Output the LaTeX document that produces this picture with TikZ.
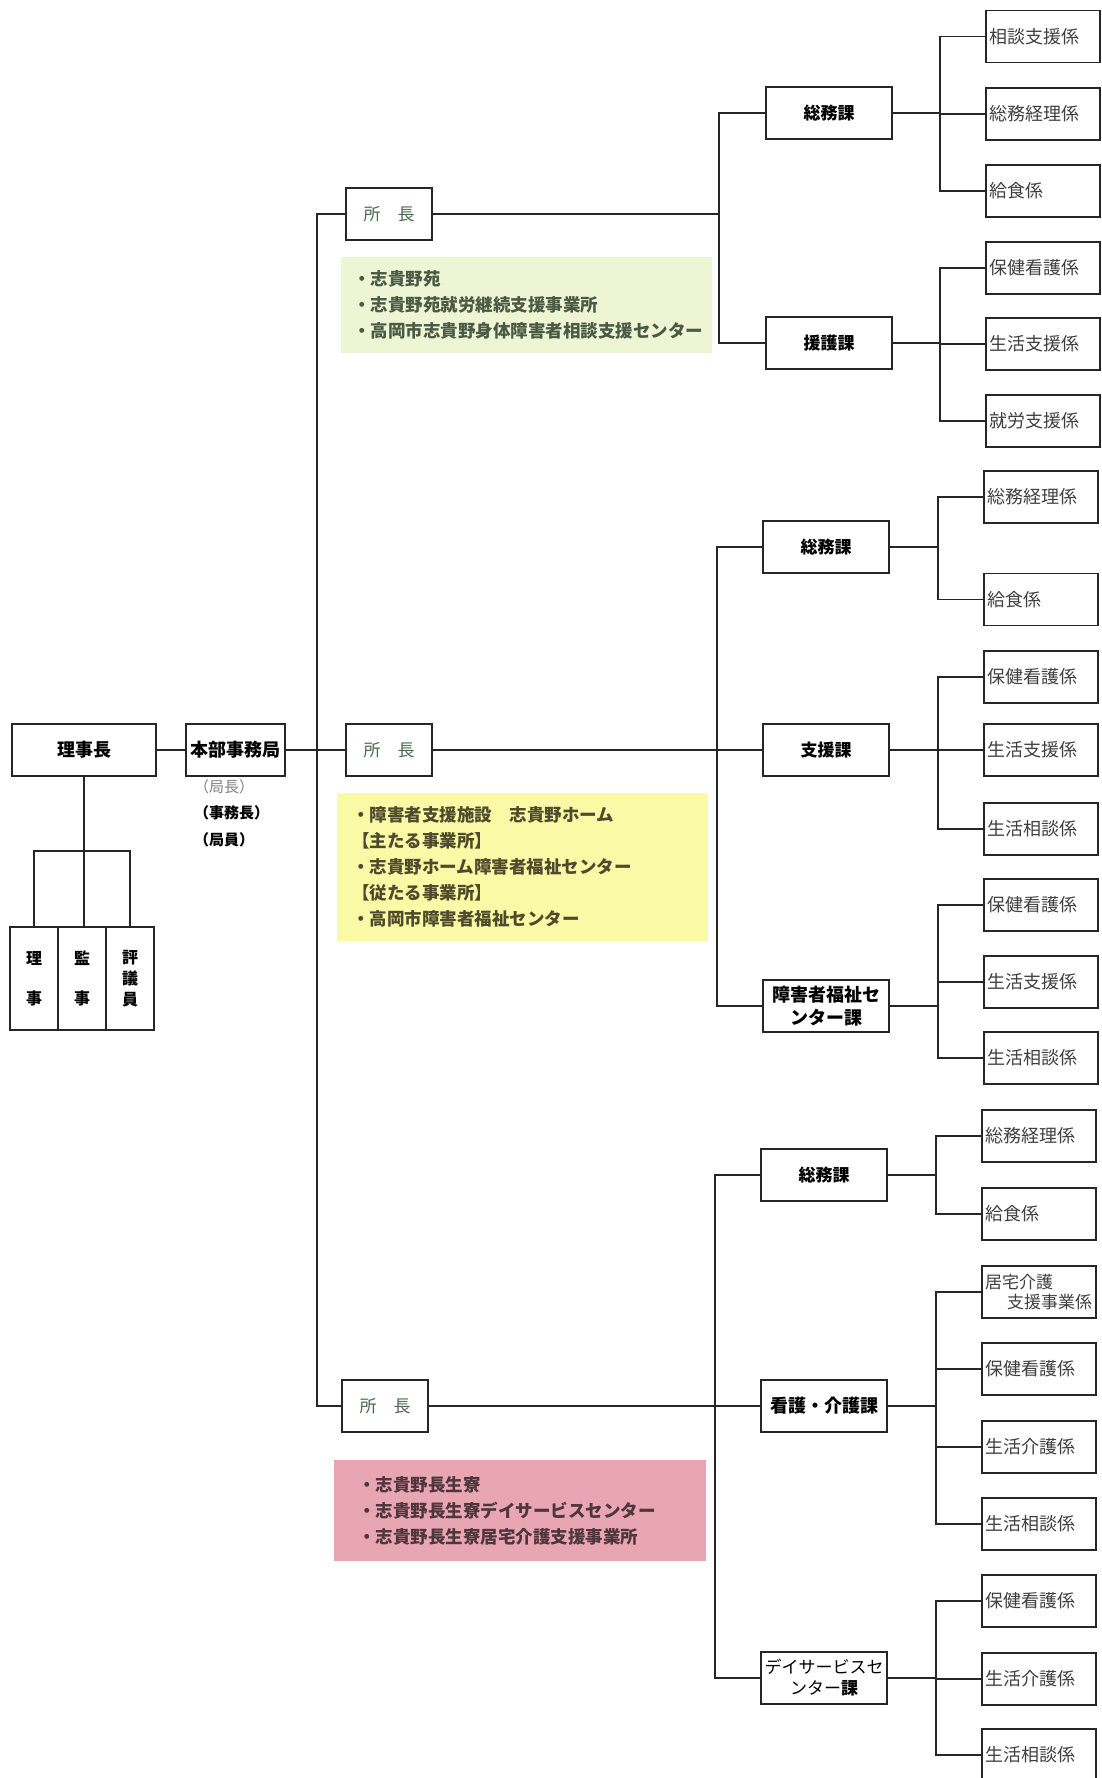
\documentclass[tikz,border=0pt]{standalone}
\usepackage{fontspec}
\setmainfont{Noto Sans CJK JP}

\definecolor{greenbg}{RGB}{238,245,212}
\definecolor{yellowbg}{RGB}{250,249,165}
\definecolor{pinkbg}{RGB}{232,166,178}
\definecolor{greenink}{RGB}{74,90,68}
\definecolor{yellowink}{RGB}{78,74,44}
\definecolor{pinkink}{RGB}{78,54,60}
\definecolor{shogreen}{RGB}{74,104,74}

\begin{document}
\begin{tikzpicture}[x=1pt, y=-1pt,
    box/.style={draw=black!85, line width=1.8pt, fill=white, minimum height=52pt, inner sep=1pt},
    kakari/.style={box, minimum width=114pt, text width=108pt, inner xsep=3pt, align=left,
      text=black!75, font=\fontsize{18}{20}\selectfont},
    ka/.style={box, minimum width=126pt, align=center, font=\bfseries\fontsize{17}{22}\selectfont},
    shocho/.style={box, minimum width=86pt, text=shogreen, font=\fontsize{17}{20}\selectfont},
    kanbox/.style={box, minimum width=48pt, minimum height=103pt, align=center,
      font=\bfseries\fontsize{16}{21}\selectfont},
    wire/.style={draw=black!85, line width=1.6pt},
    memo/.style={anchor=north west, align=left, inner sep=0pt, font=\bfseries\fontsize{17.5}{26}\selectfont}]

    \useasboundingbox (0,0) rectangle (1102,1778);

    % trunk, bus and rack lines
    \coordinate (trunk) at (317,0);
    \coordinate (bus1) at (719,0);
    \coordinate (bus2) at (717,0);
    \coordinate (bus3) at (715,0);
    \coordinate (rack1) at (940,0);
    \coordinate (rack2) at (938,0);
    \coordinate (rack3) at (936,0);
    \coordinate (brk) at (0,851);

    % board
    \node[box, minimum width=144pt, font=\bfseries\fontsize{18}{20}\selectfont] (chair) at (84,750) {理事長};
    \node[box, minimum width=99pt, font=\bfseries\fontsize{18}{20}\selectfont] (hq) at (235.5,750) {本部事務局};
    \node[anchor=north west, align=left, inner sep=0pt, font=\fontsize{15}{26.5}\selectfont] (hqstaff)
      at (194,779) {\textcolor{black!50}{（局長）}\\\textbf{（事務長）}\\\textbf{（局員）}};
    \node[kanbox] (riji) at (34,978.5) {理\\[19pt]事};
    \node[kanbox] (kanji) at (82,978.5) {監\\[19pt]事};
    \node[kanbox] (hyogi) at (130,978.5) {評\\議\\員};

    \draw[wire] (chair.south) -- (chair.south |- kanji.north);
    \draw[wire] (riji.north) -- (riji.north |- brk) -- (hyogi.north |- brk) -- (hyogi.north);
    \draw[wire] (chair.east) -- (hq.west);

    % directors
    \node[shocho] (cho1) at (389,214) {所　長};
    \node[shocho] (cho2) at (389,750) {所　長};
    \node[shocho] (cho3) at (385,1406) {所　長};

    \draw[wire] (hq.east) -- (cho2.west);
    \draw[wire] (cho1.west) -- (cho1.west -| trunk) -- (cho3.west -| trunk) -- (cho3.west);

    % facility notes
    \fill[greenbg] (341,257) rectangle (712,353);
    \node[memo, text=greenink] (memo1) at (353,270.5)
      {・志貴野苑\\・志貴野苑就労継続支援事業所\\・高岡市志貴野身体障害者相談支援センター};
    \fill[yellowbg] (337,793) rectangle (708,941);
    \node[memo, text=yellowink] (memo2) at (352,806.5)
      {・障害者支援施設　志貴野ホーム\\【主たる事業所】\\・志貴野ホーム障害者福祉センター\\【従たる事業所】\\・高岡市障害者福祉センター};
    \fill[pinkbg] (334,1460) rectangle (706,1561);
    \node[memo, text=pinkink] (memo3) at (358,1476.5)
      {・志貴野長生寮\\・志貴野長生寮デイサービスセンター\\・志貴野長生寮居宅介護支援事業所};

    % first facility
    \node[ka] (soumu1) at (829,113) {総務課};
    \node[ka] (engo) at (829,343) {援護課};
    \draw[wire] (cho1.east) -- (cho1.east -| bus1);
    \draw[wire] (soumu1.west) -- (soumu1.west -| bus1) -- (engo.west -| bus1) -- (engo.west);

    \node[kakari] (k1) at (1043,36.5) {相談支援係};
    \node[kakari] (k2) at (1043,114) {総務経理係};
    \node[kakari] (k3) at (1043,191) {給食係};
    \node[kakari] (k4) at (1043,268) {保健看護係};
    \node[kakari] (k5) at (1043,344) {生活支援係};
    \node[kakari] (k6) at (1043,421) {就労支援係};
    \draw[wire] (soumu1.east) -- (soumu1.east -| rack1);
    \draw[wire] (k1.west) -- (k1.west -| rack1) -- (k3.west -| rack1) -- (k3.west);
    \draw[wire] (k2.west) -- (k2.west -| rack1);
    \draw[wire] (engo.east) -- (engo.east -| rack1);
    \draw[wire] (k4.west) -- (k4.west -| rack1) -- (k6.west -| rack1) -- (k6.west);
    \draw[wire] (k5.west) -- (k5.west -| rack1);

    % second facility
    \node[ka] (soumu2) at (826,547) {総務課};
    \node[ka] (shien) at (826,750) {支援課};
    \node[ka, font=\bfseries\fontsize{18}{23}\selectfont] (fukushi) at (826,1006) {障害者福祉セ\\ンター課};
    \draw[wire] (cho2.east) -- (shien.west);
    \draw[wire] (soumu2.west) -- (soumu2.west -| bus2) -- (fukushi.west -| bus2) -- (fukushi.west);

    \node[kakari] (k7) at (1041,497) {総務経理係};
    \node[kakari] (k8) at (1041,599.5) {給食係};
    \node[kakari] (k9) at (1041,677) {保健看護係};
    \node[kakari] (k10) at (1041,750) {生活支援係};
    \node[kakari] (k11) at (1041,829) {生活相談係};
    \node[kakari] (k12) at (1041,905) {保健看護係};
    \node[kakari] (k13) at (1041,982) {生活支援係};
    \node[kakari] (k14) at (1041,1058) {生活相談係};
    \draw[wire] (soumu2.east) -- (soumu2.east -| rack2);
    \draw[wire] (k7.west) -- (k7.west -| rack2) -- (k8.west -| rack2) -- (k8.west);
    \draw[wire] (shien.east) -- (k10.west);
    \draw[wire] (k9.west) -- (k9.west -| rack2) -- (k11.west -| rack2) -- (k11.west);
    \draw[wire] (fukushi.east) -- (fukushi.east -| rack2);
    \draw[wire] (k12.west) -- (k12.west -| rack2) -- (k14.west -| rack2) -- (k14.west);
    \draw[wire] (k13.west) -- (k13.west -| rack2);

    % third facility
    \node[ka] (soumu3) at (824,1175) {総務課};
    \node[ka, font=\bfseries\fontsize{18}{22}\selectfont] (kango) at (824,1406) {看護・介護課};
    \node[ka, font=\mdseries\fontsize{17}{21}\selectfont] (day) at (824,1678) {デイサービスセ\\ンター\textbf{課}};
    \draw[wire] (cho3.east) -- (kango.west);
    \draw[wire] (soumu3.west) -- (soumu3.west -| bus3) -- (day.west -| bus3) -- (day.west);

    \node[kakari] (k15) at (1039,1136) {総務経理係};
    \node[kakari] (k16) at (1039,1214) {給食係};
    \node[kakari, font=\fontsize{17}{20}\selectfont] (k17) at (1039,1292) {居宅介護\\\hspace*{22pt}支援事業係};
    \node[kakari] (k18) at (1039,1369) {保健看護係};
    \node[kakari] (k19) at (1039,1447) {生活介護係};
    \node[kakari] (k20) at (1039,1524) {生活相談係};
    \node[kakari] (k21) at (1039,1601) {保健看護係};
    \node[kakari] (k22) at (1039,1679) {生活介護係};
    \node[kakari] (k23) at (1039,1755) {生活相談係};
    \draw[wire] (soumu3.east) -- (soumu3.east -| rack3);
    \draw[wire] (k15.west) -- (k15.west -| rack3) -- (k16.west -| rack3) -- (k16.west);
    \draw[wire] (kango.east) -- (kango.east -| rack3);
    \draw[wire] (k17.west) -- (k17.west -| rack3) -- (k20.west -| rack3) -- (k20.west);
    \draw[wire] (k18.west) -- (k18.west -| rack3);
    \draw[wire] (k19.west) -- (k19.west -| rack3);
    \draw[wire] (day.east) -- (day.east -| rack3);
    \draw[wire] (k21.west) -- (k21.west -| rack3) -- (k23.west -| rack3) -- (k23.west);
    \draw[wire] (k22.west) -- (k22.west -| rack3);

\end{tikzpicture}
\end{document}
